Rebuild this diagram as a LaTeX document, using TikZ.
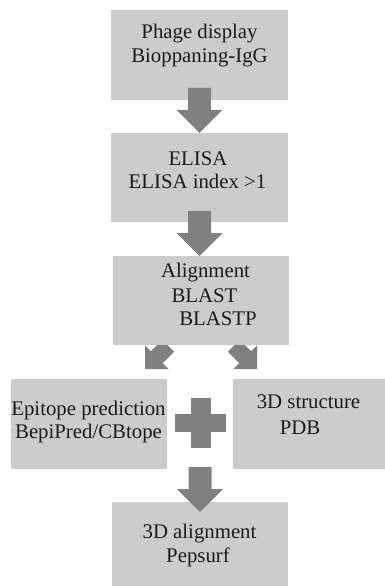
\documentclass[tikz,border=0pt]{standalone}
\usepackage{fontspec}
\setmainfont{Liberation Serif}
\definecolor{boxgray}{HTML}{CCCCCC}
\definecolor{arrowgray}{HTML}{808080}
\definecolor{inkblack}{HTML}{1A1A1A}
\tikzset{
  stage/.style={rectangle, fill=boxgray, draw=none, inner sep=0pt},
  label/.style={anchor=base, inner sep=0pt, text=inkblack, font=\fontsize{20.8}{24}\selectfont},
  arrowfill/.style={fill=arrowgray},
}
% block arrow pointing down, tip at the origin: #1 tip position, #2 rotation, #3 scale
\newcommand\blockarrow[3]{%
  \fill[arrowfill, shift={#1}, rotate=#2, scale=#3]
    (-11.5,-45) -- (11.5,-45) -- (11.5,-23) -- (23,-23) -- (0,0)
    -- (-23,-23) -- (-11.5,-23) -- cycle;}
\begin{document}
\begin{tikzpicture}[x=1pt,y=-1pt]
\useasboundingbox (0,0) rectangle (385,586);

% diagonal arrows, partly hidden below the alignment box
\blockarrow{(145,369)}{-45}{0.73}
\blockarrow{(257,369)}{45}{0.73}

% stage boxes
\node[stage, minimum width=177pt, minimum height=90pt] (b1) at (199.5,55) {};
\node[stage, minimum width=177pt, minimum height=89pt] (b2) at (199.5,177.5) {};
\node[stage, minimum width=176pt, minimum height=89pt] (b3) at (201,300.5) {};
\node[stage, minimum width=156pt, minimum height=90pt] (b4) at (89,424) {};
\node[stage, minimum width=152pt, minimum height=90pt] (b5) at (309,424) {};
\node[stage, minimum width=176pt, minimum height=84pt] (b6) at (200,544) {};

% texts
\node[label] (t1a) at (199.5,39) {Phage display};
\node[label] (t1b) at (199.5,63) {Bioppaning-IgG};
\node[label] (t2a) at (198,165) {ELISA};
\node[label] (t2b) at (197.5,188) {ELISA index {>}1};
\node[label] (t3a) at (205.5,277) {Alignment};
\node[label] (t3b) at (204.5,302) {BLAST};
\node[label] (t3c) at (218,325) {BLASTP};
\node[label] (t4a) at (88.5,415) {Epitope prediction};
\node[label] (t4b) at (88.5,438) {BepiPred/CBtope};
\node[label] (t5a) at (308.5,408) {3D structure};
\node[label] (t5b) at (300,434) {PDB};
\node[label] (t6a) at (199.5,538) {3D alignment};
\node[label] (t6b) at (198,562) {Pepsurf};

% vertical arrows between stages
\blockarrow{(b2.north)}{0}{1}
\blockarrow{(199.5,256)}{0}{1}
\blockarrow{(200,512)}{0}{1}

% plus sign joining the two predictions
\node[arrowfill, rectangle, minimum width=20pt, minimum height=50pt, inner sep=0pt] (plusv) at (201,423) {};
\node[arrowfill, rectangle, minimum width=51pt, minimum height=18pt, inner sep=0pt] (plush) at (200.5,423) {};
\end{tikzpicture}
\end{document}
